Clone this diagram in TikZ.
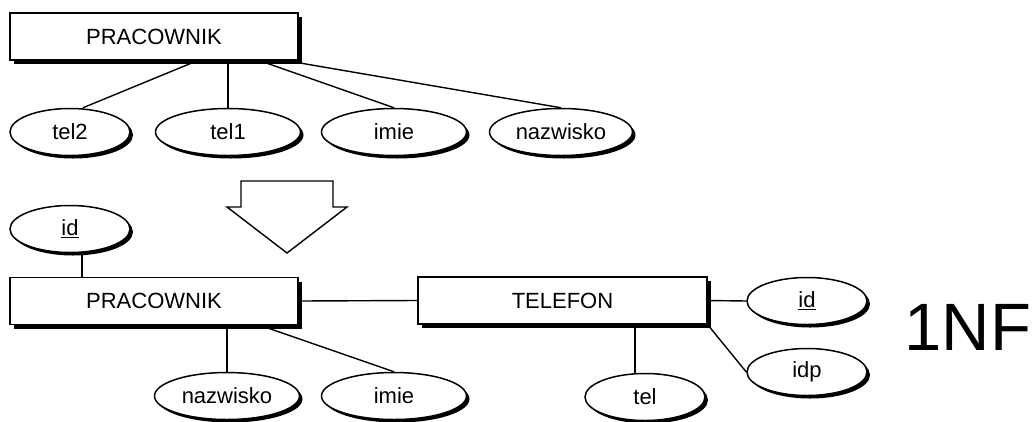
\documentclass[tikz,border=0pt]{standalone}
\usepackage{fontspec}
\setmainfont{Liberation Sans}
\usetikzlibrary{shadows,calc,shapes.geometric}
\tikzset{
  entity/.style={draw, line width=1.6pt, fill=white, inner sep=0pt,
    minimum width=288pt, minimum height=47pt,
    font=\fontsize{22}{26}\selectfont,
    drop shadow={shadow xshift=4pt, shadow yshift=-4pt, opacity=1, fill=black}},
  attr/.style={draw, ellipse, line width=1.5pt, fill=white, inner sep=0pt,
    minimum height=47pt, font=\fontsize{22}{26}\selectfont,
    drop shadow={shadow xshift=3pt, shadow yshift=-3pt, opacity=1, fill=black}},
  link/.style={line width=1.4pt},
  bigarrow/.style={draw, line width=1.4pt, fill=white, line join=miter}
}
\begin{document}
\begin{tikzpicture}[x=1pt, y=-1pt]
\useasboundingbox (0,0) rectangle (1035,421);

% original relation
\node[entity] (p1) at (154,36.5) {PRACOWNIK};
\node[attr, minimum width=120pt] (t2) at (70,132) {tel2};
\node[attr, minimum width=145pt] (t1) at (228,132) {tel1};
\node[attr, minimum width=145pt] (im1) at (394,132) {imie};
\node[attr, minimum width=143pt] (nz1) at (561,132) {nazwisko};

\draw[link] ([xshift=43pt]p1.south) -- ([xshift=13pt]t2.north);
\draw[link] (p1.south -| t1.north) -- (t1.north);
\draw[link] ([xshift=106pt]p1.south) -- (im1.north);
\draw[link] ([yshift=-2pt]p1.south east) -- (nz1.north);

% transformation arrow
\draw[bigarrow] (241,181) -- (333,181) -- (333,207) -- (347,207) -- (287,253)
  -- (227,207) -- (241,207) -- cycle;

% relations in first normal form
\node[attr, minimum width=120pt] (idl) at (70,229) {\underline{id}};
\node[entity] (p2) at (154,301) {PRACOWNIK};
\node[entity, minimum width=289pt] (tf) at (562.5,300.5) {TELEFON};
\node[attr, minimum width=145pt] (nz2) at (227,396) {nazwisko};
\node[attr, minimum width=145pt] (im2) at (394,396) {imie};
\node[attr, minimum width=120pt] (tl) at (645,397) {tel};
\node[attr, minimum width=120pt] (idr) at (807,301) {\underline{id}};
\node[attr, minimum width=120pt] (idp) at (807,372) {idp};

\draw[link] ([xshift=12pt]idl.south) -- ([xshift=12pt]idl.south |- p2.north);
\draw[link] (p2.east) -- (tf.west);
\draw[link] (p2.south -| nz2.north) -- (nz2.north);
\draw[link] ([xshift=106pt]p2.south) -- (im2.north);
\draw[link] (tf.east) -- (idr.west);
\draw[link] (tf.south east) -- (idp.west);
\draw[link] ([xshift=-10pt]tl.north |- tf.south) -- ([xshift=-10pt]tl.north);

\node[font=\fontsize{67}{76}\selectfont, inner sep=0pt] (nf) at (968,327) {1NF};
\end{tikzpicture}
\end{document}
